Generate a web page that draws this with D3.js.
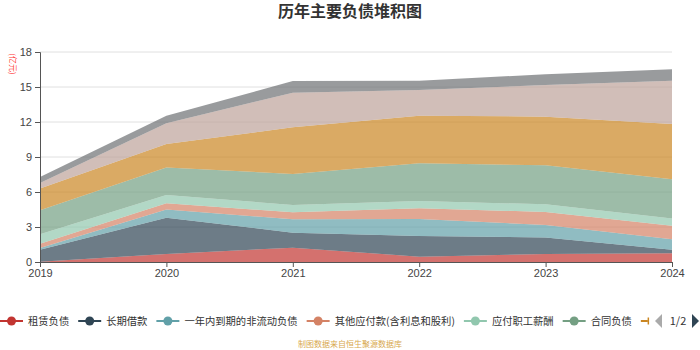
<!DOCTYPE html>
<html>
<head>
<meta charset="utf-8">
<script src="https://cdn.jsdelivr.net/npm/d3@7"></script>
<style>
  body { margin: 0; background: #fff; }
  svg { display: block; font-family: "Noto Sans CJK SC", "Noto Sans", sans-serif; }
</style>
</head>
<body>
<svg id="chart"></svg>
<script>
const years = ["2019", "2020", "2021", "2022", "2023", "2024"];
const seriesNames = ["租赁负债", "长期借款", "一年内到期的非流动负债", "其他应付款(含利息和股利)",
  "应付职工薪酬", "合同负债", "应付账款", "应付票据", "应交税费"];
const colors = ["#c23531", "#2f4554", "#61a0a8", "#d48265", "#91c7ae", "#749f83", "#ca8622", "#bda29a", "#6e7074"];

// values in 亿元, one array per series
const zulin = [0.03, 0.69, 1.23, 0.46, 0.69, 0.76];
const changqi = [1.03, 3.11, 1.28, 1.77, 1.42, 0.3];
const yinian = [0.14, 0.71, 1.15, 1.46, 1.06, 0.9];
const qita = [0.37, 0.52, 0.6, 0.91, 1.12, 1.14];
const zhigong = [0.8, 0.71, 0.63, 0.63, 0.65, 0.63];
const hetong = [2.06, 2.37, 2.65, 3.23, 3.35, 3.37];
const yingfu = [1.86, 2.0, 4.0, 4.08, 4.17, 4.72];
const piaoju = [0.48, 1.78, 2.97, 2.2, 2.71, 3.71];
const shuifei = [0.52, 0.65, 1.0, 0.8, 0.92, 1.0];
const yTicks = [0, 3, 6, 9, 12, 15, 18];

const allValues = [zulin, changqi, yinian, qita, zhigong, hetong, yingfu, piaoju, shuifei];
const table = years.map((y, i) => {
  const row = { year: y };
  seriesNames.forEach((n, k) => { row[n] = allValues[k][i]; });
  return row;
});

const width = 700, height = 350;
const margin = { top: 52, right: 28, bottom: 88, left: 40 };
const innerWidth = width - margin.left - margin.right;
const innerHeight = height - margin.top - margin.bottom;

const svg = d3.select("#chart").attr("width", width).attr("height", height);

// title
svg.append("text")
  .attr("x", width / 2).attr("y", 17)
  .attr("text-anchor", "middle")
  .attr("font-size", 16).attr("font-weight", "bold")
  .attr("fill", "#333")
  .text("历年主要负债堆积图");

const g = svg.append("g").attr("transform", `translate(${margin.left},${margin.top})`);

const xScale = d3.scalePoint().domain(years).range([0, innerWidth]);
const yScale = d3.scaleLinear().domain([0, 18]).range([innerHeight, 0]);

// grid
g.append("g").selectAll("line").data(yTicks.slice(1)).join("line")
  .attr("x1", 0).attr("x2", innerWidth)
  .attr("y1", d => yScale(d)).attr("y2", d => yScale(d))
  .attr("stroke", "#e0e0e0").attr("stroke-width", 1);

// stacked areas
const stack = d3.stack().keys(seriesNames);
const layers = stack(table);
const area = d3.area()
  .x(d => xScale(d.data.year))
  .y0(d => yScale(d[0]))
  .y1(d => yScale(d[1]));

g.append("g").selectAll("path").data(layers).join("path")
  .attr("d", area)
  .attr("fill", (d, i) => colors[i])
  .attr("fill-opacity", 0.7);

// axes
const yAxis = d3.axisLeft(yScale).tickValues(yTicks).tickSize(5).tickPadding(3);
const yAxisG = g.append("g").call(yAxis);
yAxisG.select(".domain").attr("stroke", "#555");
yAxisG.selectAll(".tick line").attr("stroke", "#555");
yAxisG.selectAll("text").attr("font-size", 11).attr("fill", "#444");

const xAxis = d3.axisBottom(xScale).tickSize(5).tickPadding(2).tickSizeOuter(0);
const xAxisG = g.append("g").attr("transform", `translate(0,${innerHeight})`).call(xAxis);
xAxisG.select(".domain").attr("stroke", "#555");
xAxisG.selectAll(".tick line").attr("stroke", "#555");
xAxisG.selectAll("text").attr("font-size", 11).attr("fill", "#444");

// unit label
svg.append("text")
  .attr("transform", "translate(10,64) rotate(90)")
  .attr("text-anchor", "middle")
  .attr("font-size", 8)
  .attr("fill", "#f33")
  .text("(亿元)");

// legend (page 1 of 2) - six full items, the 7th only peeks in
const legend = svg.append("g");
let lx = 0;
const ly = 321;
seriesNames.slice(0, 6).forEach((name, i) => {
  const item = legend.append("g").attr("transform", `translate(${lx},${ly})`);
  item.append("line").attr("x1", 0).attr("x2", 23).attr("y1", 0).attr("y2", 0)
    .attr("stroke", colors[i]).attr("stroke-width", 2);
  item.append("circle").attr("cx", 11.5).attr("cy", 0).attr("r", 4.5).attr("fill", colors[i]);
  const t = item.append("text").attr("x", 28).attr("y", 4)
    .attr("font-size", 10.3).attr("fill", "#333").text(name);
  lx += 28 + t.node().getComputedTextLength() + 9;
});
// clipped 7th legend icon
const peek = legend.append("g").attr("transform", `translate(${lx},${ly})`);
peek.append("line").attr("x1", 0).attr("x2", 7).attr("y1", 0).attr("y2", 0)
  .attr("stroke", colors[6]).attr("stroke-width", 2);
peek.append("line").attr("x1", 7.5).attr("x2", 7.5).attr("y1", -3.5).attr("y2", 3.5)
  .attr("stroke", colors[6]).attr("stroke-width", 1.5);

// legend page controls
svg.append("path").attr("d", "M662,314 L655,321 L662,328 Z").attr("fill", "#aaa");
svg.append("text").attr("x", 678).attr("y", 325).attr("text-anchor", "middle")
  .attr("font-size", 11).attr("fill", "#333").text("1/2");
svg.append("path").attr("d", "M692,314 L699,321 L692,328 Z").attr("fill", "#2f4554");

// source note
svg.append("text")
  .attr("x", width / 2).attr("y", 347)
  .attr("text-anchor", "middle")
  .attr("font-size", 8)
  .attr("fill", "#d8a84e")
  .text("制图数据来自恒生聚源数据库");
</script>
</body>
</html>
